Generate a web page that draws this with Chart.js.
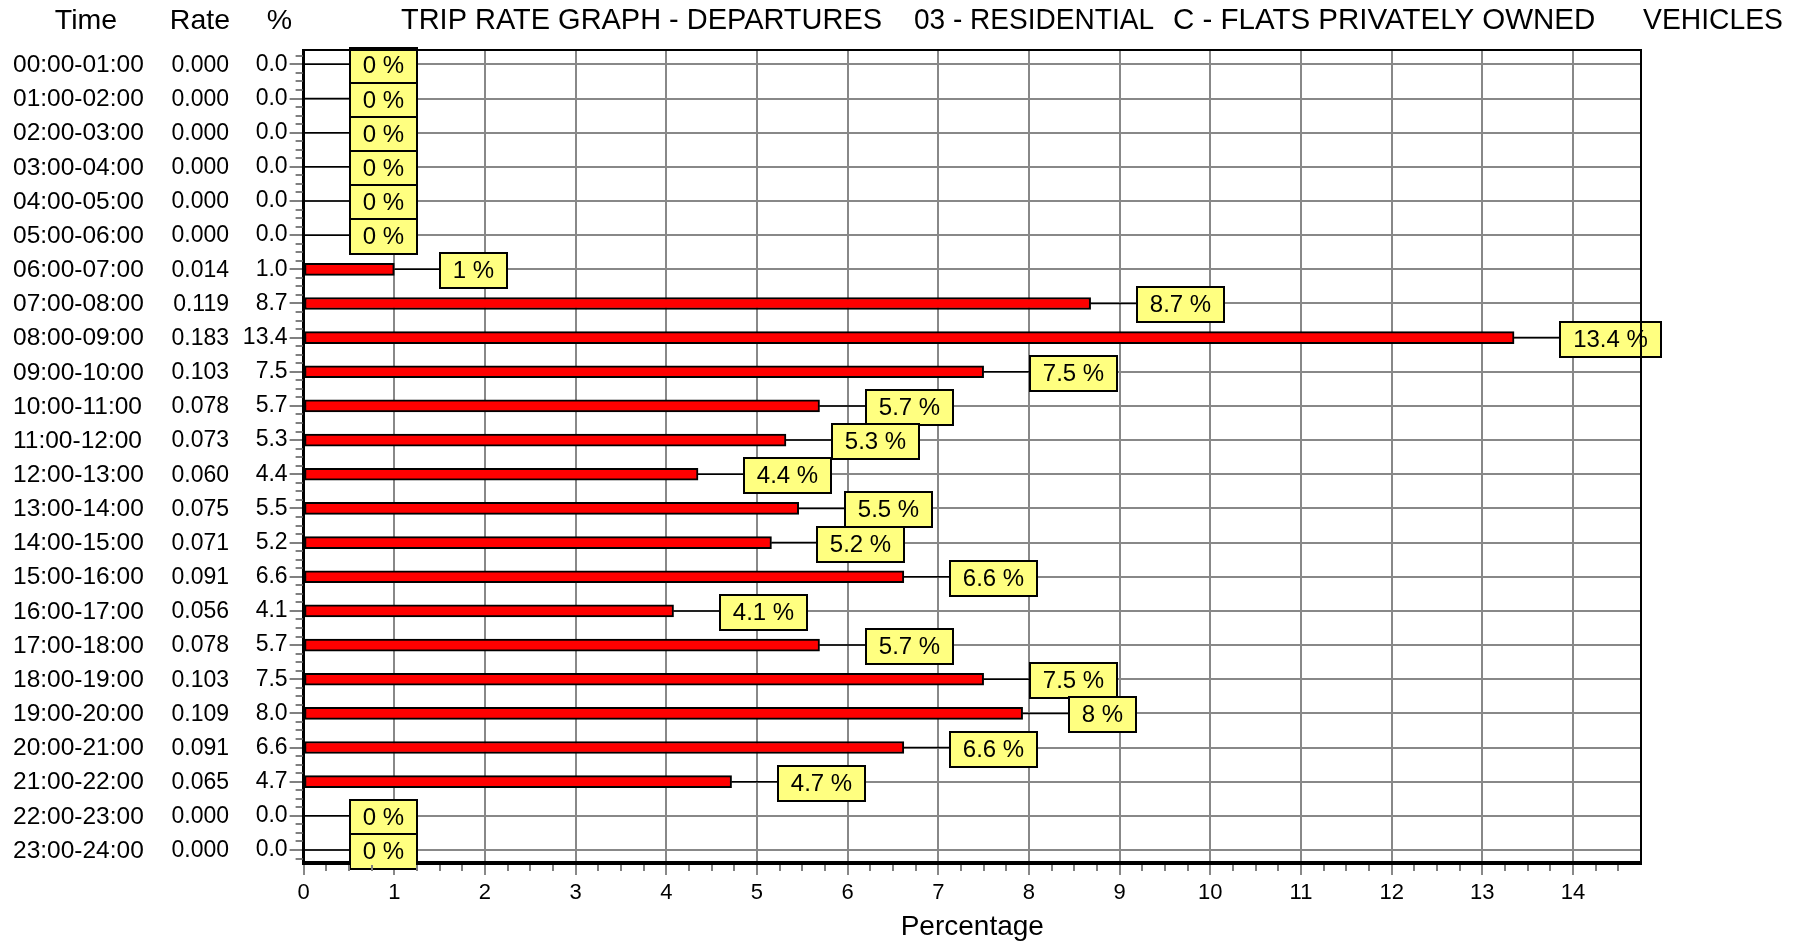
<!DOCTYPE html>
<html>
<head>
<meta charset="utf-8">
<script src="https://cdn.jsdelivr.net/npm/chart.js@4.4.1/dist/chart.umd.min.js"></script>
<style>
  html, body { margin: 0; padding: 0; background: #fff; }
  .wrap { width: 1800px; height: 944px; position: relative; }
</style>
</head>
<body>
<div class="wrap"><canvas id="tripChart"></canvas></div>
<script>
const timeLabels = [
    '00:00-01:00', '01:00-02:00', '02:00-03:00', '03:00-04:00', '04:00-05:00', '05:00-06:00',
    '06:00-07:00', '07:00-08:00', '08:00-09:00', '09:00-10:00', '10:00-11:00', '11:00-12:00',
    '12:00-13:00', '13:00-14:00', '14:00-15:00', '15:00-16:00', '16:00-17:00', '17:00-18:00',
    '18:00-19:00', '19:00-20:00', '20:00-21:00', '21:00-22:00', '22:00-23:00', '23:00-24:00'
];
const rateValues = [
    0.000, 0.000, 0.000, 0.000, 0.000, 0.000, 0.014, 0.119, 0.183, 0.103, 0.078, 0.073,
    0.060, 0.075, 0.071, 0.091, 0.056, 0.078, 0.103, 0.109, 0.091, 0.065, 0.000, 0.000
];
// printed percentages (% column and yellow labels)
const pctValues = [
    0.0, 0.0, 0.0, 0.0, 0.0, 0.0, 1.0, 8.7, 13.4, 7.5, 5.7, 5.3,
    4.4, 5.5, 5.2, 6.6, 4.1, 5.7, 7.5, 8.0, 6.6, 4.7, 0.0, 0.0
];
// bar lengths (unrounded)
const barValues = [
    0, 0, 0, 0, 0, 0, 1.00, 8.68, 13.35, 7.50, 5.69, 5.32,
    4.35, 5.46, 5.16, 6.62, 4.08, 5.69, 7.50, 7.93, 6.62, 4.72, 0, 0
];
const xTickValues = [0, 1, 2, 3, 4, 5, 6, 7, 8, 9, 10, 11, 12, 13, 14];
const titleParts = ['TRIP RATE GRAPH - DEPARTURES', '03 - RESIDENTIAL', 'C - FLATS PRIVATELY OWNED', 'VEHICLES'];
const columnHeaders = ['Time', 'Rate', '%'];
const xTitle = 'Percentage';

const FONT = "'Liberation Sans', Arial, sans-serif";
const titleX = [401, 914, 1173, 1643];
const titleW = [481, 240, 423, 140];

function pctText(v) {
    return (Math.round(v * 10) / 10) + ' %';
}

const tripExtras = {
    id: 'tripExtras',
    afterDatasetsDraw(chart) {
        const ctx = chart.ctx;
        const xs = chart.scales.x;
        const ys = chart.scales.y;
        ctx.save();
        ctx.font = '24px ' + FONT;
        ctx.textAlign = 'center';
        ctx.textBaseline = 'middle';
        barValues.forEach(function (v, i) {
            const x0 = xs.getPixelForValue(v);
            const y = ys.getPixelForValue(i);
            const txt = pctText(pctValues[i]);
            const w = Math.round(ctx.measureText(txt).width + 26);
            const bx = Math.round(x0 + 46);
            const by = Math.round(y - 16);
            // leader line
            ctx.strokeStyle = '#000';
            ctx.lineWidth = 1.5;
            ctx.beginPath();
            ctx.moveTo(x0, y);
            ctx.lineTo(bx, y);
            ctx.stroke();
            // label box
            ctx.fillStyle = '#ffff80';
            ctx.fillRect(bx, by, w, 35);
            ctx.lineWidth = 2;
            ctx.strokeRect(bx, by, w, 35);
            ctx.fillStyle = '#000';
            ctx.fillText(txt, bx + w / 2, by + 18);
        });
        ctx.restore();
    },
    afterDraw(chart) {
        const ctx = chart.ctx;
        const area = chart.chartArea;
        const xs = chart.scales.x;
        const ys = chart.scales.y;
        ctx.save();

        // top and right frame
        ctx.strokeStyle = '#000';
        ctx.lineWidth = 2;
        ctx.beginPath();
        ctx.moveTo(area.left, area.top);
        ctx.lineTo(area.right, area.top);
        ctx.lineTo(area.right, area.bottom);
        ctx.stroke();

        // minor ticks
        ctx.strokeStyle = '#808080';
        ctx.lineWidth = 2;
        ctx.beginPath();
        for (let q = -1; q <= timeLabels.length * 4 - 3; q++) {
            if (q % 4 === 0) continue;
            const y = Math.round(ys.getPixelForValue(q / 4));
            ctx.moveTo(area.left - 8, y);
            ctx.lineTo(area.left - 1, y);
        }
        for (let q = 1; q / 4 < xs.max; q++) {
            if (q % 4 === 0) continue;
            const x = Math.round(xs.getPixelForValue(q / 4));
            ctx.moveTo(x, area.bottom + 2);
            ctx.lineTo(x, area.bottom + 8);
        }
        ctx.stroke();

        // title
        ctx.fillStyle = '#000';
        ctx.textBaseline = 'alphabetic';
        ctx.font = '29.5px ' + FONT;
        ctx.textAlign = 'left';
        titleParts.forEach(function (t, i) {
            ctx.fillText(t, titleX[i], 29, titleW[i]);
        });

        // column headers
        ctx.font = '28.5px ' + FONT;
        ctx.textAlign = 'center';
        ctx.fillText(columnHeaders[0], 86, 29);
        ctx.textAlign = 'right';
        ctx.fillText(columnHeaders[1], 230, 29);
        ctx.fillText(columnHeaders[2], 292, 29);

        // time and rate columns
        ctx.textBaseline = 'middle';
        timeLabels.forEach(function (t, i) {
            const y = ys.getPixelForValue(i) + 1;
            ctx.font = '24.5px ' + FONT;
            ctx.textAlign = 'left';
            ctx.fillText(t, 13, y);
            ctx.font = '23px ' + FONT;
            ctx.textAlign = 'right';
            ctx.fillText(rateValues[i].toFixed(3), 229, y);
        });
        ctx.restore();
    }
};

new Chart(document.getElementById('tripChart').getContext('2d'), {
    type: 'bar',
    data: {
        labels: timeLabels,
        datasets: [{
            label: '%',
            data: barValues,
            backgroundColor: '#ff0000',
            borderColor: '#000000',
            borderWidth: 2,
            borderSkipped: false,
            barThickness: 12
        }]
    },
    options: {
        indexAxis: 'y',
        responsive: true,
        maintainAspectRatio: false,
        animation: false,
        layout: { padding: { top: 50, right: 159, left: 0, bottom: 0 } },
        plugins: {
            legend: { display: false },
            tooltip: { enabled: false }
        },
        scales: {
            x: {
                type: 'linear',
                min: 0,
                max: 14.75,
                afterBuildTicks: function (scale) {
                    scale.ticks = xTickValues.map(v => ({ value: v }));
                },
                afterFit: function (scale) { scale.height = 81; },
                ticks: {
                    color: '#000',
                    padding: 5,
                    font: { family: FONT, size: 22 }
                },
                grid: {
                    color: '#888',
                    lineWidth: 2,
                    tickLength: 12,
                    tickColor: '#888'
                },
                border: { color: '#000', width: 4 },
                title: {
                    display: true,
                    text: xTitle,
                    color: '#000',
                    font: { family: FONT, size: 28 },
                    padding: { top: 0, bottom: 0 }
                }
            },
            y: {
                offset: false,
                afterFit: function (scale) {
                    scale.width = 303.6;
                    // rows sit a little closer to the frame than half a band
                    scale._startValue = -0.42;
                    scale._valueRange = timeLabels.length - 1 + 0.8;
                },
                ticks: {
                    color: '#000',
                    padding: 2,
                    font: { family: FONT, size: 23 },
                    callback: function (v, i) { return pctValues[i].toFixed(1); }
                },
                grid: {
                    offset: false,
                    color: '#888',
                    lineWidth: 2,
                    tickLength: 14,
                    tickColor: '#808080'
                },
                border: { color: '#000', width: 3 }
            }
        }
    },
    plugins: [tripExtras]
});
</script>
</body>
</html>
